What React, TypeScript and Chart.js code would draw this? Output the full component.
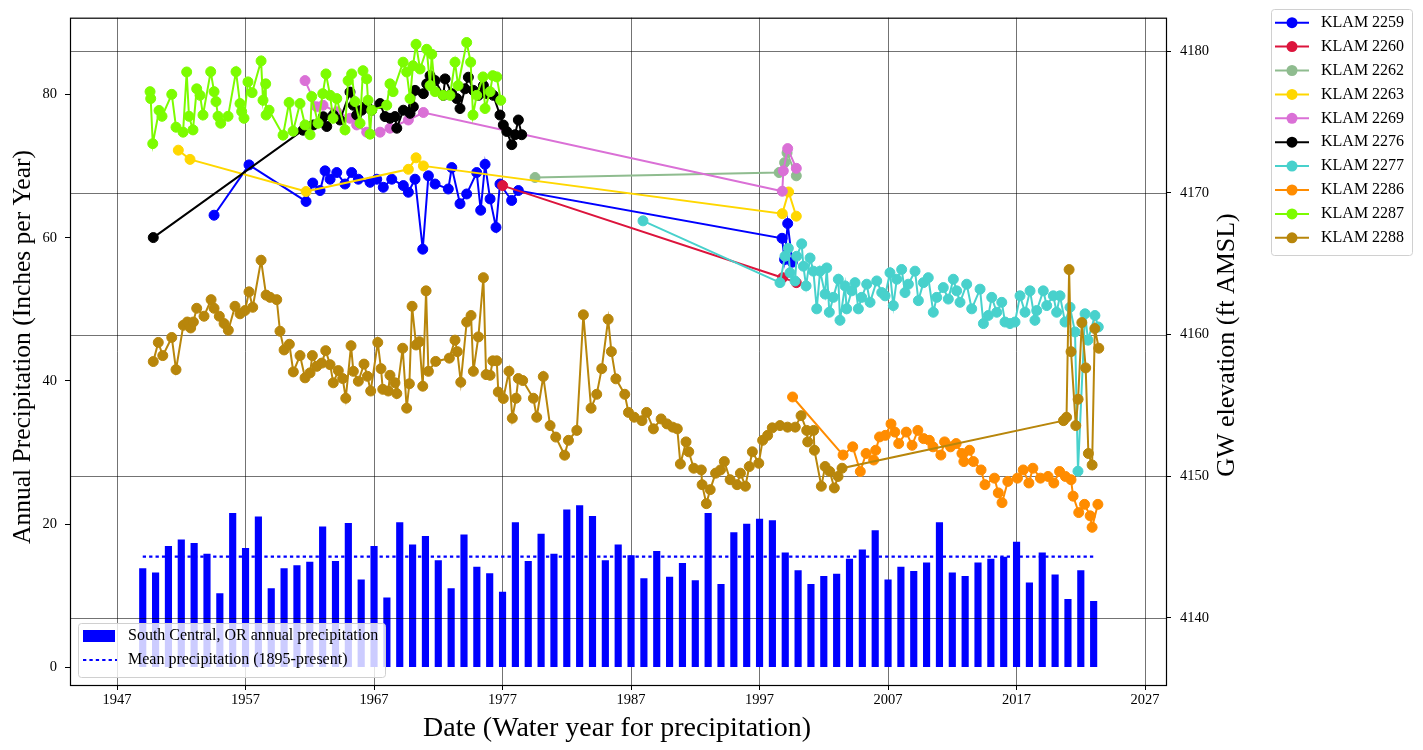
import React, { useEffect, useRef } from 'react';
import { Chart, registerables } from 'chart.js';

Chart.register(...registerables);

const FONT = '"Liberation Serif", "Times New Roman", serif';
const GRID = 'rgba(0,0,0,0.55)';

// ---- Precipitation (left axis) ----
const waterYears = [
  1949, 1950, 1951, 1952, 1953, 1954, 1955, 1956, 1957, 1958, 1959, 1960, 1961, 1962, 1963, 1964, 1965, 1966, 1967, 1968,
  1969, 1970, 1971, 1972, 1973, 1974, 1975, 1976, 1977, 1978, 1979, 1980, 1981, 1982, 1983, 1984, 1985, 1986, 1987, 1988,
  1989, 1990, 1991, 1992, 1993, 1994, 1995, 1996, 1997, 1998, 1999, 2000, 2001, 2002, 2003, 2004, 2005, 2006, 2007, 2008,
  2009, 2010, 2011, 2012, 2013, 2014, 2015, 2016, 2017, 2018, 2019, 2020, 2021, 2022, 2023,
];
const annualPrecip = [
  13.8, 13.2, 16.9, 17.8, 17.3, 15.8, 10.3, 21.5, 16.6, 21.0, 11.0, 13.8, 14.2, 14.7, 19.6, 14.8, 20.1, 12.2, 16.9, 9.7,
  20.2, 17.1, 18.3, 14.9, 11.0, 18.5, 14.0, 13.1, 10.5, 20.2, 14.8, 18.6, 15.8, 22.0, 22.6, 21.1, 14.9, 17.1, 15.6, 12.4,
  16.2, 12.6, 14.5, 12.1, 21.5, 11.6, 18.8, 20.0, 20.7, 20.5, 16.0, 13.5, 11.6, 12.7, 13.0, 15.1, 16.4, 19.1, 12.2, 14.0,
  13.4, 14.6, 20.2, 13.2, 12.7, 14.6, 15.1, 15.4, 17.5, 11.8, 16.0, 12.9, 9.5, 13.5, 9.2,
];
const meanPrecip = 15.45;

const xTickYears = [1947, 1957, 1967, 1977, 1987, 1997, 2007, 2017, 2027];
const leftTicks = [0, 20, 40, 60, 80];
const rightTicks = [4140, 4150, 4160, 4170, 4180];

// ---- Groundwater elevations (right axis): [year, ft AMSL] ----
const klam2259: [number, number][] = [
  [1954.55, 4168.43], [1957.27, 4171.98], [1961.71, 4169.40], [1962.23, 4170.70], [1962.80, 4170.17], [1963.19, 4171.56],
  [1963.58, 4170.97], [1964.10, 4171.44], [1964.74, 4170.63], [1965.26, 4171.44], [1965.78, 4170.97], [1966.69, 4170.75],
  [1967.21, 4170.97], [1967.72, 4170.40], [1968.38, 4170.97], [1969.28, 4170.52], [1969.67, 4170.05], [1970.19, 4170.97],
  [1970.79, 4166.03], [1971.23, 4171.21], [1971.75, 4170.63], [1972.78, 4170.28], [1973.05, 4171.79], [1973.69, 4169.24],
  [1974.21, 4169.93], [1974.99, 4171.44], [1975.30, 4168.78], [1975.64, 4172.02], [1976.03, 4169.58], [1976.49, 4167.57],
  [1976.80, 4170.63], [1977.71, 4169.47], [1978.23, 4170.17], [1998.75, 4166.80], [1998.95, 4165.30], [1999.19, 4167.84],
  [1999.55, 4165.11],
];
const klam2260: [number, number][] = [[1977.01, 4170.52], [1998.80, 4164.02], [1999.86, 4163.67]];
const klam2262: [number, number][] = [
  [1979.53, 4171.09], [1998.52, 4171.44], [1998.95, 4172.14], [1999.14, 4172.83], [1999.86, 4171.21],
];
const klam2263: [number, number][] = [
  [1951.77, 4173.02], [1952.68, 4172.37], [1961.71, 4170.10], [1969.67, 4171.67], [1970.27, 4172.48], [1970.84, 4171.91],
  [1998.77, 4168.54], [1999.26, 4170.07], [1999.86, 4168.36],
];
const klam2269: [number, number][] = [
  [1961.63, 4177.93], [1962.54, 4176.08], [1963.03, 4176.19], [1964.10, 4175.73], [1965.13, 4175.27], [1965.65, 4174.80],
  [1966.43, 4174.29], [1967.47, 4174.29], [1968.24, 4174.57], [1969.67, 4175.15], [1970.84, 4175.68], [1998.77, 4170.12],
  [1998.85, 4171.56], [1999.19, 4173.13], [1999.86, 4171.74],
];
const klam2276: [number, number][] = [
  [1949.82, 4166.85], [1961.47, 4174.43], [1962.28, 4174.80], [1963.05, 4175.38], [1963.32, 4174.69], [1963.83, 4175.50],
  [1964.35, 4175.15], [1965.13, 4177.12], [1965.39, 4176.19], [1965.65, 4175.50], [1966.04, 4175.84], [1966.43, 4176.19],
  [1966.82, 4175.84], [1967.47, 4176.31], [1967.86, 4175.39], [1968.24, 4175.27], [1968.63, 4175.39], [1968.77, 4174.57],
  [1969.28, 4175.84], [1969.80, 4175.62], [1970.06, 4176.08], [1970.19, 4177.24], [1970.84, 4177.01], [1971.10, 4177.70],
  [1971.36, 4178.28], [1971.75, 4177.93], [1972.39, 4176.89], [1972.53, 4178.05], [1973.05, 4177.01], [1973.44, 4176.66],
  [1973.69, 4175.96], [1974.08, 4177.35], [1974.34, 4178.17], [1974.73, 4177.24], [1975.12, 4176.89], [1975.51, 4177.58],
  [1975.77, 4177.01], [1976.28, 4176.89], [1976.80, 4175.50], [1977.06, 4174.80], [1977.33, 4174.34], [1977.72, 4173.41],
  [1977.97, 4174.11], [1978.23, 4175.15], [1978.49, 4174.11],
];
const klam2277: [number, number][] = [
  [1987.93, 4168.03], [1998.59, 4163.67], [1998.98, 4165.53], [1999.24, 4166.10], [1999.37, 4164.37], [1999.76, 4163.79],
  [1999.89, 4165.53], [2000.28, 4166.41], [2000.41, 4164.83], [2000.62, 4163.44], [2000.93, 4165.41], [2001.19, 4164.48],
  [2001.45, 4161.82], [2001.71, 4164.48], [2002.10, 4162.86], [2002.23, 4164.71], [2002.43, 4161.58], [2002.74, 4162.63],
  [2003.13, 4163.91], [2003.26, 4161.01], [2003.65, 4163.44], [2003.78, 4161.82], [2004.17, 4163.09], [2004.43, 4163.67],
  [2004.69, 4161.82], [2004.95, 4162.63], [2005.34, 4163.56], [2005.60, 4162.28], [2006.12, 4163.79], [2006.51, 4162.97],
  [2006.77, 4162.74], [2007.15, 4164.37], [2007.41, 4162.05], [2007.68, 4163.91], [2008.06, 4164.60], [2008.32, 4162.97],
  [2008.58, 4163.56], [2009.10, 4164.48], [2009.36, 4162.40], [2009.75, 4163.67], [2010.13, 4164.02], [2010.52, 4161.58],
  [2010.79, 4162.63], [2011.30, 4163.32], [2011.69, 4162.51], [2012.08, 4163.91], [2012.34, 4163.09], [2012.60, 4162.28],
  [2013.12, 4163.56], [2013.51, 4161.82], [2014.16, 4163.21], [2014.42, 4160.78], [2014.80, 4161.35], [2015.07, 4162.63],
  [2015.46, 4161.58], [2015.85, 4162.28], [2016.10, 4160.89], [2016.49, 4160.78], [2016.88, 4160.89], [2017.27, 4162.74],
  [2017.66, 4161.58], [2018.05, 4163.09], [2018.43, 4161.01], [2018.57, 4161.70], [2019.08, 4163.09], [2019.35, 4162.05],
  [2019.86, 4162.74], [2020.12, 4161.58], [2020.38, 4162.74], [2020.77, 4160.89], [2021.16, 4161.93], [2021.55, 4160.19],
  [2021.78, 4150.36], [2022.33, 4161.47], [2022.56, 4159.61], [2023.10, 4161.35], [2023.36, 4160.54],
];
const klam2286: [number, number][] = [
  [1999.57, 4155.60], [2003.50, 4151.50], [2004.25, 4152.08], [2004.84, 4150.34], [2005.29, 4151.61], [2005.88, 4151.15],
  [2006.04, 4151.84], [2006.34, 4152.78], [2006.79, 4152.89], [2007.23, 4153.70], [2007.53, 4153.12], [2007.83, 4152.31],
  [2008.42, 4153.12], [2008.87, 4152.19], [2009.32, 4153.24], [2009.77, 4152.66], [2010.21, 4152.54], [2010.50, 4152.08],
  [2011.11, 4151.50], [2011.40, 4152.43], [2011.86, 4152.08], [2012.30, 4152.31], [2012.75, 4151.61], [2012.90, 4151.04],
  [2013.34, 4151.84], [2013.64, 4151.04], [2014.24, 4150.45], [2014.54, 4149.41], [2015.28, 4149.87], [2015.58, 4148.83],
  [2015.87, 4148.14], [2016.32, 4149.64], [2017.07, 4149.87], [2017.52, 4150.45], [2017.96, 4149.53], [2018.27, 4150.57],
  [2018.86, 4149.87], [2019.45, 4149.99], [2019.90, 4149.53], [2020.35, 4150.34], [2020.80, 4149.99], [2021.24, 4149.76],
  [2021.40, 4148.60], [2021.84, 4147.44], [2022.29, 4148.02], [2022.73, 4147.21], [2022.88, 4146.40], [2023.33, 4148.02],
];
const klam2287: [number, number][] = [
  [1949.57, 4177.15], [1949.62, 4176.66], [1949.78, 4173.48], [1950.27, 4175.82], [1950.50, 4175.41], [1951.26, 4176.96],
  [1951.59, 4174.64], [1952.14, 4174.29], [1952.42, 4178.54], [1952.60, 4175.41], [1952.91, 4174.45], [1953.20, 4177.35],
  [1953.46, 4176.89], [1953.69, 4175.50], [1954.29, 4178.56], [1954.55, 4177.15], [1954.70, 4176.45], [1954.86, 4175.41],
  [1955.07, 4174.92], [1955.64, 4175.41], [1956.26, 4178.56], [1956.57, 4176.31], [1956.70, 4175.75], [1956.88, 4175.27],
  [1957.19, 4177.84], [1957.51, 4177.08], [1958.21, 4179.32], [1958.36, 4176.54], [1958.57, 4177.70], [1958.60, 4175.50],
  [1958.83, 4175.84], [1959.92, 4174.08], [1960.39, 4176.38], [1960.70, 4174.36], [1961.24, 4176.31], [1961.63, 4174.80],
  [1962.02, 4174.11], [1962.15, 4176.80], [1962.64, 4174.92], [1963.01, 4177.01], [1963.26, 4178.40], [1963.58, 4176.89],
  [1963.81, 4175.27], [1964.10, 4176.66], [1964.74, 4174.45], [1964.98, 4177.93], [1965.26, 4178.40], [1965.52, 4176.45],
  [1965.91, 4174.92], [1966.14, 4178.63], [1966.43, 4178.05], [1966.53, 4176.54], [1966.69, 4174.15], [1966.82, 4175.84],
  [1967.99, 4176.19], [1968.24, 4177.70], [1968.48, 4177.15], [1969.26, 4179.23], [1969.54, 4178.54], [1969.80, 4176.66],
  [1970.03, 4178.98], [1970.27, 4180.49], [1970.58, 4178.75], [1971.10, 4180.14], [1971.36, 4177.58], [1971.49, 4179.79],
  [1971.75, 4177.15], [1972.37, 4176.89], [1972.91, 4176.89], [1973.30, 4179.23], [1973.54, 4177.58], [1974.21, 4180.62],
  [1974.52, 4179.23], [1974.70, 4175.50], [1974.99, 4176.89], [1975.48, 4178.19], [1975.64, 4175.96], [1976.03, 4177.15],
  [1976.24, 4178.28], [1976.55, 4178.19], [1976.86, 4176.54],
];
const klam2288: [number, number][] = [
  [1949.82, 4158.10], [1950.21, 4159.45], [1950.56, 4158.52], [1951.26, 4159.80], [1951.59, 4157.53], [1952.16, 4160.66],
  [1952.47, 4160.89], [1952.73, 4160.47], [1952.94, 4160.89], [1953.20, 4161.86], [1953.77, 4161.30], [1954.32, 4162.47],
  [1954.55, 4161.86], [1954.96, 4161.30], [1955.33, 4160.78], [1955.66, 4160.31], [1956.18, 4162.00], [1956.57, 4161.47],
  [1956.96, 4161.70], [1957.27, 4163.02], [1957.56, 4161.93], [1958.21, 4165.25], [1958.60, 4162.79], [1958.91, 4162.63],
  [1959.43, 4162.47], [1959.68, 4160.24], [1960.00, 4158.92], [1960.41, 4159.32], [1960.72, 4157.37], [1961.24, 4158.52],
  [1961.63, 4156.95], [1962.02, 4157.30], [1962.20, 4158.52], [1962.54, 4157.76], [1962.93, 4157.99], [1963.24, 4158.87],
  [1963.58, 4157.88], [1963.83, 4156.60], [1964.22, 4157.46], [1964.56, 4156.90], [1964.80, 4155.51], [1965.21, 4159.22],
  [1965.39, 4157.41], [1965.78, 4156.71], [1966.22, 4157.92], [1966.48, 4157.06], [1966.74, 4156.02], [1967.29, 4159.45],
  [1967.54, 4157.60], [1967.68, 4156.14], [1968.11, 4156.02], [1968.24, 4157.13], [1968.63, 4156.60], [1968.77, 4155.84],
  [1969.23, 4159.04], [1969.54, 4154.81], [1969.75, 4156.53], [1969.96, 4162.00], [1970.27, 4159.27], [1970.53, 4159.50],
  [1970.79, 4156.36], [1971.05, 4163.09], [1971.23, 4157.41], [1971.80, 4158.11], [1972.86, 4158.34], [1973.30, 4159.61],
  [1973.48, 4158.80], [1973.75, 4156.64], [1974.21, 4160.89], [1974.55, 4161.35], [1974.73, 4157.41], [1975.12, 4159.84],
  [1975.51, 4164.02], [1975.72, 4157.18], [1976.03, 4157.13], [1976.24, 4158.15], [1976.55, 4158.15], [1976.67, 4155.95],
  [1977.06, 4155.49], [1977.50, 4157.41], [1977.76, 4154.10], [1978.05, 4155.51], [1978.23, 4156.90], [1978.57, 4156.76],
  [1979.40, 4155.51], [1979.66, 4154.17], [1980.17, 4157.04], [1980.70, 4153.58], [1981.14, 4152.77], [1981.83, 4151.49],
  [1982.13, 4152.54], [1982.78, 4153.24], [1983.29, 4161.40], [1983.89, 4154.81], [1984.33, 4155.79], [1984.72, 4157.60],
  [1985.22, 4161.08], [1985.47, 4158.80], [1985.82, 4156.88], [1986.51, 4155.79], [1986.80, 4154.51], [1987.25, 4154.17],
  [1987.85, 4153.93], [1988.21, 4154.51], [1988.74, 4153.35], [1989.34, 4154.05], [1989.79, 4153.70], [1990.24, 4153.47],
  [1990.60, 4153.35], [1990.84, 4150.87], [1991.28, 4152.43], [1991.49, 4151.73], [1991.88, 4150.57], [1992.47, 4150.45],
  [1992.53, 4149.41], [1992.86, 4148.07], [1993.16, 4149.06], [1993.58, 4150.22], [1993.96, 4150.45], [1994.26, 4151.04],
  [1994.71, 4149.76], [1995.25, 4149.41], [1995.51, 4150.22], [1995.90, 4149.30], [1996.20, 4150.69], [1996.44, 4151.73],
  [1996.94, 4150.92], [1997.24, 4152.54], [1997.63, 4152.89], [1997.99, 4153.42], [1998.59, 4153.58], [1999.18, 4153.47],
  [1999.78, 4153.47], [2000.23, 4154.28], [2000.67, 4153.24], [2000.75, 4152.43], [2001.21, 4153.24], [2001.27, 4151.84],
  [2001.81, 4149.30], [2002.10, 4150.69], [2002.46, 4150.34], [2002.82, 4149.18], [2003.11, 4149.99], [2003.42, 4150.57],
  [2020.65, 4153.93], [2020.89, 4154.17], [2021.09, 4164.59], [2021.24, 4158.80], [2021.61, 4153.58], [2021.79, 4155.44],
  [2022.08, 4160.85], [2022.38, 4157.65], [2022.59, 4151.61], [2022.88, 4150.80], [2023.09, 4160.43], [2023.40, 4159.04],
];

const wellNames = [
  'KLAM 2259', 'KLAM 2260', 'KLAM 2262', 'KLAM 2263', 'KLAM 2269',
  'KLAM 2276', 'KLAM 2277', 'KLAM 2286', 'KLAM 2287', 'KLAM 2288',
];
const wellColors = [
  '#0000ff', '#dc143c', '#8fbc8f', '#ffd700', '#da70d6',
  '#000000', '#48d1cc', '#ff8c00', '#7cfc00', '#b8860b',
];
const wellSeries = [klam2259, klam2260, klam2262, klam2263, klam2269, klam2276, klam2277, klam2286, klam2287, klam2288];

function roundRect(ctx: CanvasRenderingContext2D, x: number, y: number, w: number, h: number, r: number) {
  ctx.beginPath();
  ctx.moveTo(x + r, y);
  ctx.lineTo(x + w - r, y);
  ctx.arcTo(x + w, y, x + w, y + r, r);
  ctx.lineTo(x + w, y + h - r);
  ctx.arcTo(x + w, y + h, x + w - r, y + h, r);
  ctx.lineTo(x + r, y + h);
  ctx.arcTo(x, y + h, x, y + h - r, r);
  ctx.lineTo(x, y + r);
  ctx.arcTo(x, y, x + r, y, r);
  ctx.closePath();
}

const overlayPlugin = {
  id: 'overlay',
  afterDatasetDraw(chart: any, args: any) {
    if (args.index !== 1) return;
    const ctx: CanvasRenderingContext2D = chart.ctx;
    const a = chart.chartArea;
    const y2 = chart.scales.y2;
    ctx.save();
    // horizontal grid (from right axis), drawn above bars
    ctx.strokeStyle = GRID;
    ctx.lineWidth = 1;
    rightTicks.forEach((v) => {
      const y = Math.round(y2.getPixelForValue(v)) + 0.5;
      ctx.beginPath();
      ctx.moveTo(a.left, y);
      ctx.lineTo(a.right, y);
      ctx.stroke();
    });
    // lower-left legend
    roundRect(ctx, 78.5, 623.5, 307, 54, 3);
    ctx.fillStyle = 'rgba(255,255,255,0.8)';
    ctx.fill();
    ctx.strokeStyle = '#d0d0d0';
    ctx.lineWidth = 1;
    ctx.stroke();
    ctx.fillStyle = '#0000ff';
    ctx.fillRect(83, 630, 32, 12);
    ctx.strokeStyle = '#0000ff';
    ctx.lineWidth = 2.2;
    ctx.setLineDash([3.3, 3.1]);
    ctx.beginPath();
    ctx.moveTo(83, 660);
    ctx.lineTo(117, 660);
    ctx.stroke();
    ctx.setLineDash([]);
    ctx.fillStyle = '#000';
    ctx.font = `16px ${FONT}`;
    ctx.textAlign = 'left';
    ctx.textBaseline = 'middle';
    ctx.fillText('South Central, OR annual precipitation', 128, 636);
    ctx.fillText('Mean precipitation (1895-present)', 128, 660);
    ctx.restore();
  },
  afterDraw(chart: any) {
    const ctx: CanvasRenderingContext2D = chart.ctx;
    const a = chart.chartArea;
    ctx.save();
    // frame
    ctx.strokeStyle = '#000';
    ctx.lineWidth = 1.2;
    ctx.strokeRect(a.left + 0.5, a.top + 0.5, a.right - a.left, a.bottom - a.top);
    // axis titles
    ctx.fillStyle = '#000';
    ctx.textAlign = 'center';
    ctx.textBaseline = 'alphabetic';
    ctx.font = `28px ${FONT}`;
    ctx.fillText('Date (Water year for precipitation)', 617, 736);
    ctx.save();
    ctx.translate(30, 347);
    ctx.rotate(-Math.PI / 2);
    ctx.font = `25.5px ${FONT}`;
    ctx.fillText('Annual Precipitation (Inches per Year)', 0, 0);
    ctx.restore();
    ctx.save();
    ctx.translate(1234, 345);
    ctx.rotate(-Math.PI / 2);
    ctx.font = `26px ${FONT}`;
    ctx.fillText('GW elevation (ft AMSL)', 0, 0);
    ctx.restore();
    // right legend
    roundRect(ctx, 1271.5, 9.5, 141, 246, 3);
    ctx.fillStyle = 'rgba(255,255,255,0.8)';
    ctx.fill();
    ctx.strokeStyle = '#d0d0d0';
    ctx.lineWidth = 1;
    ctx.stroke();
    ctx.font = `16px ${FONT}`;
    ctx.textAlign = 'left';
    ctx.textBaseline = 'middle';
    wellNames.forEach((name, i) => {
      const y = 22.7 + i * 23.9;
      ctx.strokeStyle = wellColors[i];
      ctx.lineWidth = 2;
      ctx.beginPath();
      ctx.moveTo(1275, y);
      ctx.lineTo(1309, y);
      ctx.stroke();
      ctx.fillStyle = wellColors[i];
      ctx.beginPath();
      ctx.arc(1292, y, 5.5, 0, Math.PI * 2);
      ctx.fill();
      ctx.fillStyle = '#000';
      ctx.fillText(name, 1321, y);
    });
    ctx.restore();
  },
};

export default function App() {
  const canvasRef = useRef<HTMLCanvasElement | null>(null);

  useEffect(() => {
    if (!canvasRef.current) return;
    const tickFont = { family: FONT, size: 14.5 };
    const chart = new Chart(canvasRef.current, {
      type: 'bar',
      data: {
        datasets: [
          {
            type: 'bar',
            label: 'South Central, OR annual precipitation',
            data: waterYears.map((yr, i) => ({ x: yr, y: annualPrecip[i] })),
            backgroundColor: '#0000ff',
            borderWidth: 0,
            barThickness: 6.5,
            xAxisID: 'x',
            yAxisID: 'y',
            order: 20,
          } as any,
          {
            type: 'line',
            label: 'Mean precipitation (1895-present)',
            data: [
              { x: waterYears[0], y: meanPrecip },
              { x: waterYears[waterYears.length - 1], y: meanPrecip },
            ],
            borderColor: '#0000ff',
            borderWidth: 2.2,
            borderDash: [3.3, 3.1],
            pointRadius: 0,
            xAxisID: 'x',
            yAxisID: 'y',
            order: 19,
          } as any,
          ...wellSeries.map((series, i) => ({
            type: 'line',
            label: wellNames[i],
            data: series.map(([x, y]) => ({ x, y })),
            borderColor: wellColors[i],
            backgroundColor: wellColors[i],
            pointBackgroundColor: wellColors[i],
            pointBorderColor: wellColors[i],
            pointRadius: 5,
            pointBorderWidth: 1,
            borderWidth: 2,
            tension: 0,
            fill: false,
            xAxisID: 'x',
            yAxisID: 'y2',
            order: 10 - i,
          } as any)),
        ],
      },
      options: {
        animation: false,
        responsive: false,
        devicePixelRatio: 1,
        layout: { padding: { left: 0, right: 157, top: 8, bottom: 0 }, autoPadding: false } as any,
        plugins: { legend: { display: false }, tooltip: { enabled: false }, title: { display: false } },
        scales: {
          x: {
            type: 'linear',
            position: 'bottom',
            min: 1943.34,
            max: 2028.63,
            offset: false,
            afterBuildTicks: (scale: any) => {
              scale.ticks = xTickYears.map((v) => ({ value: v }));
            },
            afterFit: (scale: any) => {
              scale.height = 65;
            },
            ticks: {
              callback: (v: any) => String(v),
              font: tickFont,
              color: '#000',
              padding: 1,
              autoSkip: false,
              maxRotation: 0,
            },
            grid: {
              offset: false,
              color: GRID,
              lineWidth: 1,
              drawOnChartArea: true,
              drawTicks: true,
              tickLength: 5,
              tickColor: '#000',
            },
            border: { display: false },
          },
          y: {
            type: 'linear',
            position: 'left',
            min: -2.48,
            max: 90.74,
            afterBuildTicks: (scale: any) => {
              scale.ticks = leftTicks.map((v) => ({ value: v }));
            },
            afterFit: (scale: any) => {
              scale.width = 70;
            },
            ticks: { callback: (v: any) => String(v), font: tickFont, color: '#000', padding: 8 },
            grid: { drawOnChartArea: false, drawTicks: true, tickLength: 5, tickColor: '#000' },
            border: { display: false },
          },
          y2: {
            type: 'linear',
            position: 'right',
            min: 4135.27,
            max: 4182.37,
            afterBuildTicks: (scale: any) => {
              scale.ticks = rightTicks.map((v) => ({ value: v }));
            },
            afterFit: (scale: any) => {
              scale.width = 100;
            },
            ticks: { callback: (v: any) => String(v), font: tickFont, color: '#000', padding: 9 },
            grid: { drawOnChartArea: false, drawTicks: true, tickLength: 5, tickColor: '#000' },
            border: { display: false },
          },
        },
      } as any,
      plugins: [overlayPlugin as any],
    });
    return () => chart.destroy();
  }, []);

  return (
    <div style={{ position: 'fixed', left: 0, top: 0, width: 1423, height: 750, background: '#fff' }}>
      <canvas ref={canvasRef} width={1423} height={750} style={{ width: 1423, height: 750, display: 'block' }} />
    </div>
  );
}
